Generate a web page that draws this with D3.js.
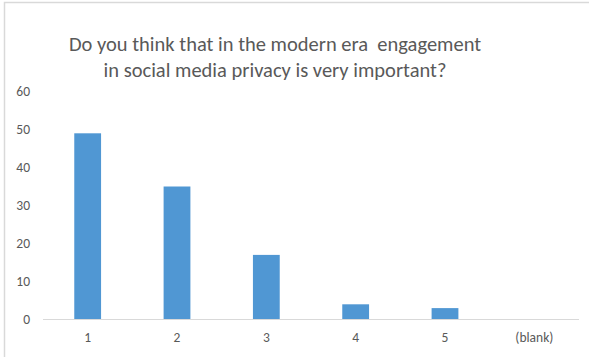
<!DOCTYPE html>
<html>
<head>
<meta charset="utf-8">
<script src="https://cdn.jsdelivr.net/npm/d3@7"></script>
<style>
  html, body { margin: 0; padding: 0; background: #fff; }
  svg { display: block; }
</style>
</head>
<body>
<svg id="chart" width="589" height="357"></svg>
<script>
// Survey responses: rating given vs. number of respondents
const categories = ["1", "2", "3", "4", "5", "(blank)"];
const counts = [49, 35, 17, 4, 3, 0];
const yTicks = [0, 10, 20, 30, 40, 50, 60];
const titleLines = [
  "Do you think that in the modern era  engagement",
  "in social media privacy is very important?"
];

const svg = d3.select("#chart");
const W = 589, H = 357;
const plot = { left: 43, right: 579, top: 91.5, bottom: 319.5 };
const textColor = "#595959";
const font = "Carlito, Calibri, Lato, 'Liberation Sans', sans-serif";

// chart frame
svg.append("rect")
  .attr("x", 4.5).attr("y", 2.5)
  .attr("width", W + 10).attr("height", H + 10)
  .attr("fill", "#fff")
  .attr("stroke", "#d9d9d9").attr("stroke-width", 1.5);

const x = d3.scaleBand()
  .domain(categories)
  .range([plot.left, plot.right])
  .paddingInner(0.7).paddingOuter(0.35);

const y = d3.scaleLinear()
  .domain([0, 60])
  .range([plot.bottom, plot.top]);

// bars
svg.append("g").selectAll("rect")
  .data(counts)
  .join("rect")
  .attr("x", (d, i) => x(categories[i]))
  .attr("y", d => y(d))
  .attr("width", x.bandwidth())
  .attr("height", d => y(0) - y(d))
  .attr("fill", "#5097d3");

// baseline
svg.append("line")
  .attr("x1", plot.left).attr("x2", plot.right)
  .attr("y1", y(0)).attr("y2", y(0))
  .attr("stroke", "#d9d9d9").attr("stroke-width", 1);

// y-axis labels
const yAxis = d3.axisLeft(y).tickValues(yTicks).tickSize(0).tickPadding(0);
const gy = svg.append("g").attr("transform", "translate(30,0)").call(yAxis);
gy.select(".domain").remove();
gy.selectAll("text")
  .attr("fill", textColor)
  .style("font-family", font)
  .style("font-size", "13.5px")
  .attr("text-anchor", "end")
  .attr("x", 0);

// x-axis labels
const xAxis = d3.axisBottom(x).tickSize(0).tickPadding(0);
const gx = svg.append("g").attr("transform", `translate(0,${y(0) + 13})`).call(xAxis);
gx.select(".domain").remove();
gx.selectAll("text")
  .attr("fill", textColor)
  .style("font-family", font)
  .style("font-size", "13.5px");

// title
svg.append("g").selectAll("text")
  .data(titleLines)
  .join("text")
  .attr("x", 275)
  .attr("y", (d, i) => 51 + i * 26)
  .attr("text-anchor", "middle")
  .attr("fill", textColor)
  .style("font-family", font)
  .style("font-size", "20.5px")
  .style("white-space", "pre")
  .text(d => d);
</script>
</body>
</html>
